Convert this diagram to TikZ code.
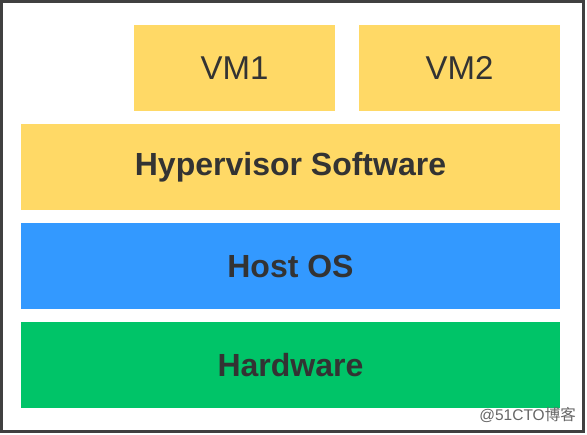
\documentclass[tikz,border=0pt]{standalone}
\usepackage{fontspec}
\setmainfont{Liberation Sans}
\newfontfamily\cjk{Noto Sans CJK SC}
\definecolor{vmyellow}{HTML}{FFD966}
\definecolor{hostblue}{HTML}{3399FF}
\definecolor{hwgreen}{HTML}{00C468}
\definecolor{textgray}{HTML}{333333}
\begin{document}
\begin{tikzpicture}[x=1pt, y=1pt,
		layer/.style={minimum width=539pt, minimum height=86pt, inner sep=0pt, text=textgray, font=\fontsize{32}{36}\selectfont\bfseries},
		vmbox/.style={fill=vmyellow, minimum width=201pt, minimum height=86pt, inner sep=0pt, text=textgray, font=\fontsize{33}{36}\selectfont}]
		
		\useasboundingbox (0,0) rectangle (587,435);
		\draw[line width = 3pt, color=black!75] (1.5,433.5) rectangle (583,3);
		
		\node[vmbox] (vm1) at (234.5,367) {VM1};
		\node[vmbox] (vm2) at (459.5,367) {VM2};
		
		\node[layer, fill=vmyellow] (hyper) at (290.5,268) {Hypervisor Software};
		\node[layer, fill=hostblue] (host) at (290.5,169) {Host OS};
		\node[layer, fill=hwgreen] (hw) at (290.5,70) {Hardware};
		
		\node[text=black!60, font=\fontsize{15.5}{17}\selectfont, anchor=east, inner sep=0pt] (mark) at (576,20) {@51CTO{\cjk 博客}};
		
	\end{tikzpicture}
\end{document}
